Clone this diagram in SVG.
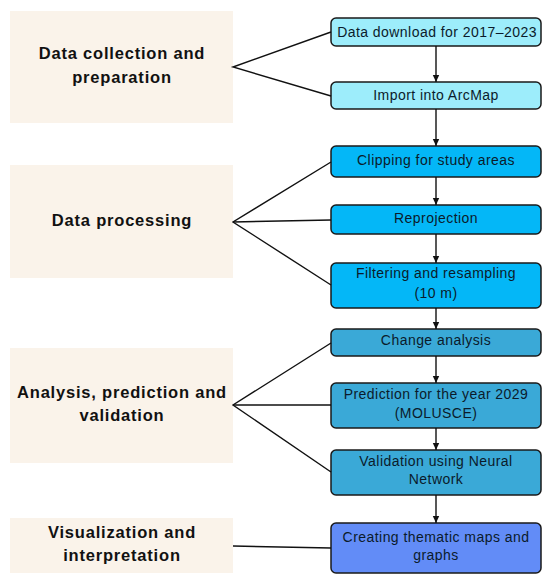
<svg xmlns="http://www.w3.org/2000/svg" width="550" height="583" viewBox="0 0 550 583">
<defs>
<marker id="ah" markerWidth="8" markerHeight="8" refX="7" refY="4" orient="auto" markerUnits="userSpaceOnUse">
<path d="M0,0.8 L7,4 L0,7.2 Z" fill="#111"/>
</marker>
<style>
.stage{fill:#FAF3EA}
.stage text{font-family:"Liberation Sans",Arial,sans-serif;font-weight:bold;font-size:16.5px;letter-spacing:0.8px;fill:#111;text-anchor:middle}
.step rect{stroke:#1a1a1a;stroke-width:1.5}
.step text{font-family:"Liberation Sans",Arial,sans-serif;font-size:14px;letter-spacing:0.45px;fill:#0b1b2b;text-anchor:middle}
.c1{fill:#9DEDFB}.c2{fill:#04B7F7}.c3{fill:#3AA9D7}.c4{fill:#628CF7}
.conn line,.conn polyline{stroke:#111;stroke-width:1.4;fill:none}
</style>
</defs>
<rect width="550" height="583" fill="#fff"/>
<g id="stage1" class="stage"><rect x="10" y="11" width="223" height="112" class="stage"/><text x="122" y="59">Data collection and</text><text x="122" y="83">preparation</text></g>
<g id="stage2" class="stage"><rect x="10" y="165" width="223" height="113" class="stage"/><text x="122" y="226">Data processing</text></g>
<g id="stage3" class="stage"><rect x="10" y="348" width="223" height="115" class="stage"/><text x="122" y="398">Analysis, prediction and</text><text x="122" y="421">validation</text></g>
<g id="stage4" class="stage"><rect x="10" y="518" width="223" height="55" class="stage"/><text x="122" y="538">Visualization and</text><text x="122" y="561">interpretation</text></g>

<g id="stepA" class="step"><rect x="331" y="18" width="210" height="28" rx="5" class="c1"/><text x="437" y="37">Data download for 2017–2023</text></g>
<g id="stepB" class="step"><rect x="331" y="82" width="210" height="27" rx="5" class="c1"/><text x="436" y="100">Import into ArcMap</text></g>
<g id="stepC" class="step"><rect x="331" y="146" width="210" height="31" rx="5" class="c2"/><text x="436" y="165">Clipping for study areas</text></g>
<g id="stepD" class="step"><rect x="331" y="205" width="210" height="29" rx="5" class="c2"/><text x="436" y="223">Reprojection</text></g>
<g id="stepE" class="step"><rect x="331" y="263" width="210" height="45" rx="5" class="c2"/><text x="436" y="278">Filtering and resampling</text><text x="436" y="298">(10 m)</text></g>
<g id="stepF" class="step"><rect x="331" y="329" width="210" height="27" rx="5" class="c3"/><text x="436" y="345">Change analysis</text></g>
<g id="stepG" class="step"><rect x="331" y="383" width="210" height="45" rx="5" class="c3"/><text x="436" y="399">Prediction for the year 2029</text><text x="436" y="418">(MOLUSCE)</text></g>
<g id="stepH" class="step"><rect x="331" y="450" width="210" height="45" rx="5" class="c3"/><text x="436" y="466">Validation using Neural</text><text x="436" y="484">Network</text></g>
<g id="stepI" class="step"><rect x="331" y="523" width="210" height="50" rx="5" class="c4"/><text x="436" y="542">Creating thematic maps and</text><text x="436" y="560">graphs</text></g>

<g id="connectors" class="conn">
<polyline points="331,32 233,67 331,96"/>
<polyline points="331,162 233,222 331,285"/>
<line x1="233" y1="222" x2="331" y2="220"/>
<polyline points="331,343 233,405 331,472"/>
<line x1="233" y1="405" x2="331" y2="405"/>
<line x1="233" y1="546" x2="331" y2="548"/>
<line x1="436" y1="46" x2="436" y2="82" marker-end="url(#ah)"/>
<line x1="436" y1="109" x2="436" y2="146" marker-end="url(#ah)"/>
<line x1="436" y1="177" x2="436" y2="205" marker-end="url(#ah)"/>
<line x1="436" y1="234" x2="436" y2="263" marker-end="url(#ah)"/>
<line x1="436" y1="308" x2="436" y2="329" marker-end="url(#ah)"/>
<line x1="436" y1="356" x2="436" y2="383" marker-end="url(#ah)"/>
<line x1="436" y1="428" x2="436" y2="450" marker-end="url(#ah)"/>
<line x1="436" y1="495" x2="436" y2="523" marker-end="url(#ah)"/>
</g>
</svg>
